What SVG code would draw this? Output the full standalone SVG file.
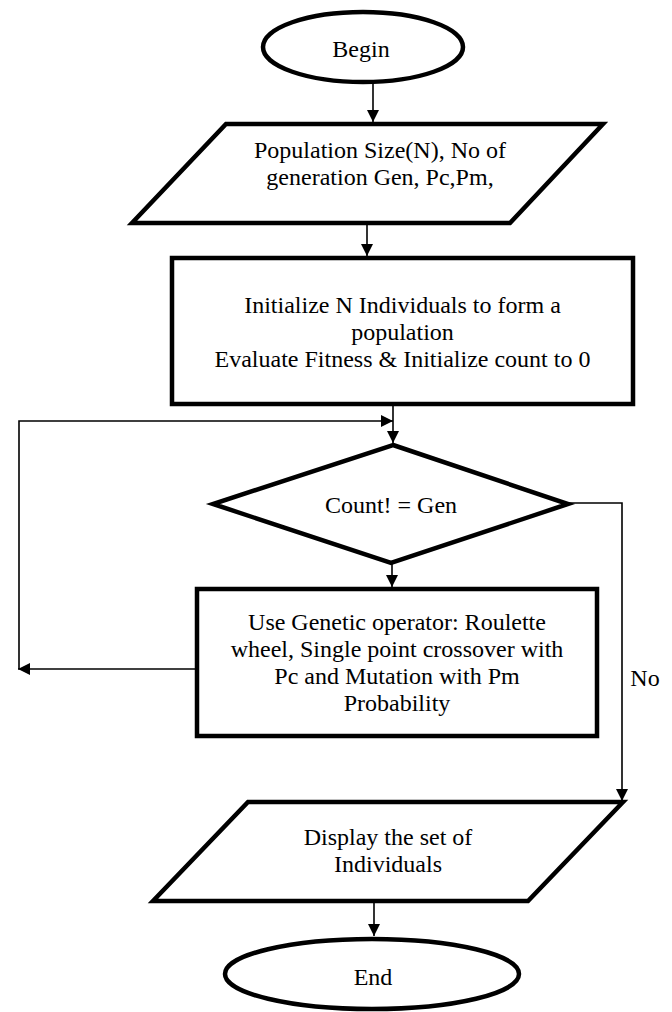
<svg xmlns="http://www.w3.org/2000/svg" width="672" height="1012" viewBox="0 0 672 1012">
<defs>
<style>
.shape{fill:#fff;stroke:#000;stroke-width:4.5;stroke-linejoin:miter}
.conn{fill:none;stroke:#000;stroke-width:1.6}
.t{font-family:"Liberation Serif","Times New Roman",serif;font-size:24px;fill:#000;text-anchor:middle}
</style>
<marker id="ah" viewBox="0 0 12 12" refX="12" refY="6" markerWidth="12" markerHeight="12" markerUnits="userSpaceOnUse" orient="auto">
<path d="M0,0 L12,6 L0,12 Z" fill="#000"/>
</marker>
</defs>
<rect width="672" height="1012" fill="#fff"/>
<g id="connectors">
<path class="conn" d="M373,82 V122" marker-end="url(#ah)"/>
<path class="conn" d="M367,223 V256" marker-end="url(#ah)"/>
<path class="conn" d="M393,405 V443" marker-end="url(#ah)"/>
<path class="conn" d="M19,669 V421 H393" marker-end="url(#ah)"/>
<path class="conn" d="M197,669 H18" marker-end="url(#ah)"/>
<path class="conn" d="M392,563 V587" marker-end="url(#ah)"/>
<path class="conn" d="M568,503 H622 V801" marker-end="url(#ah)"/>
<path class="conn" d="M374,901 V936" marker-end="url(#ah)"/>
</g>
<g id="begin">
<ellipse class="shape" cx="363" cy="47" rx="100" ry="35"/>
<text class="t" x="361" y="57">Begin</text>
</g>
<g id="input">
<path class="shape" d="M226,124 H603 L510,223 H132 Z"/>
<text class="t" x="380" y="158">Population Size(N), No of</text>
<text class="t" x="380" y="185">generation Gen, Pc,Pm,</text>
</g>
<g id="init">
<rect class="shape" x="172" y="258" width="461" height="146"/>
<text class="t" x="402.5" y="313">Initialize N Individuals to form a</text>
<text class="t" x="402.5" y="340">population</text>
<text class="t" x="402.5" y="367">Evaluate Fitness &amp; Initialize count to 0</text>
</g>
<g id="decision">
<path class="shape" d="M393,445 L568,504 L391,563 L213,504 Z"/>
<text class="t" x="391" y="513">Count! = Gen</text>
</g>
<g id="operators">
<rect class="shape" x="197" y="589" width="400" height="147"/>
<text class="t" x="397" y="630">Use Genetic operator: Roulette</text>
<text class="t" x="397" y="657">wheel, Single point crossover with</text>
<text class="t" x="397" y="684">Pc and Mutation with Pm</text>
<text class="t" x="397" y="711">Probability</text>
</g>
<text class="t" x="645" y="686">No</text>
<g id="output">
<path class="shape" d="M248,802 H623 L528,901 H153 Z"/>
<text class="t" x="388" y="845">Display the set of</text>
<text class="t" x="388" y="872">Individuals</text>
</g>
<g id="end">
<ellipse class="shape" cx="372" cy="974" rx="147" ry="35"/>
<text class="t" x="373" y="985">End</text>
</g>
</svg>
